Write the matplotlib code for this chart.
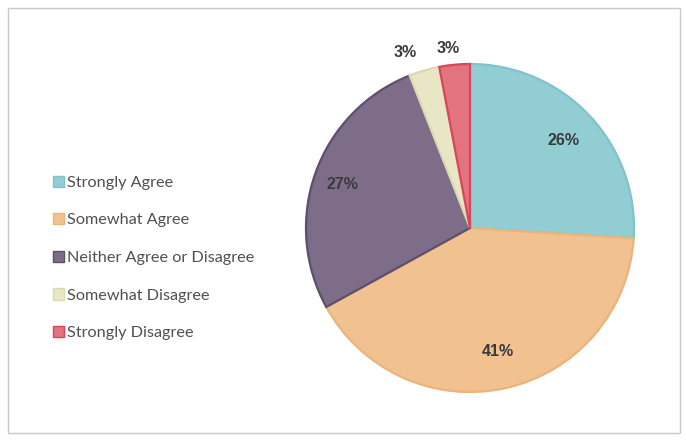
import numpy as np
import matplotlib
matplotlib.use("Agg")
import matplotlib.pyplot as plt
from matplotlib.patches import Rectangle, Patch

categories = ["Strongly Agree", "Somewhat Agree", "Neither Agree or Disagree",
              "Somewhat Disagree", "Strongly Disagree"]
values = [26, 41, 27, 3, 3]
pct_labels = ["26%", "41%", "27%", "3%", "3%"]
face_colors = ["#93cdd4", "#f1c190", "#7d6d88", "#e9e6c6", "#e3737f"]
edge_colors = ["#7fc3cc", "#e9b47e", "#5e4f6c", "#dcd8b2", "#d9455a"]

W, H = 686, 441
fig = plt.figure(figsize=(W / 100, H / 100), dpi=100)
fig.patch.set_facecolor("white")

# outer frame
fig.add_artist(Rectangle((8 / W, 8 / H), (680 - 8) / W, (433 - 8) / H,
                         transform=fig.transFigure, fill=False,
                         edgecolor="#c9c9c9", linewidth=1.0))

cx, cy, r = 470, 228, 164
ax = fig.add_axes([(cx - r) / W, (H - cy - r) / H, 2 * r / W, 2 * r / H])
wedges, _ = ax.pie(values, colors=face_colors, startangle=90, counterclock=False,
                   radius=1.0,
                   wedgeprops=dict(linewidth=1.6))
for w, ec in zip(wedges, edge_colors):
    w.set_edgecolor(ec)
ax.set_xlim(-1, 1)
ax.set_ylim(-1, 1)
ax.set_aspect("equal")
ax.axis("off")

dists = [0.78, 0.77, 0.82, 1.14, 1.10]
offs = [0, 0, 1.0, 4, 1.5]
for w, lab, d, o in zip(wedges, pct_labels, dists, offs):
    ang = np.deg2rad((w.theta1 + w.theta2) / 2 + o)
    ax.text(d * np.cos(ang), d * np.sin(ang), lab, ha="center", va="center",
            fontsize=11.5, fontweight="bold", color="#3a3a3a",
            family="Liberation Sans")

handles = [Patch(facecolor=fc, edgecolor=ec) for fc, ec in zip(face_colors, edge_colors)]
leg = fig.legend(handles, categories, loc="upper left",
                 bbox_to_anchor=(46 / W, 1 - 169 / H), frameon=False,
                 prop=dict(family="Lato", size=11.7), labelcolor="#505050",
                 handlelength=0.7, handleheight=0.7, handletextpad=0.2,
                 labelspacing=1.43, borderaxespad=0)

fig.savefig("out.png", dpi=100)
